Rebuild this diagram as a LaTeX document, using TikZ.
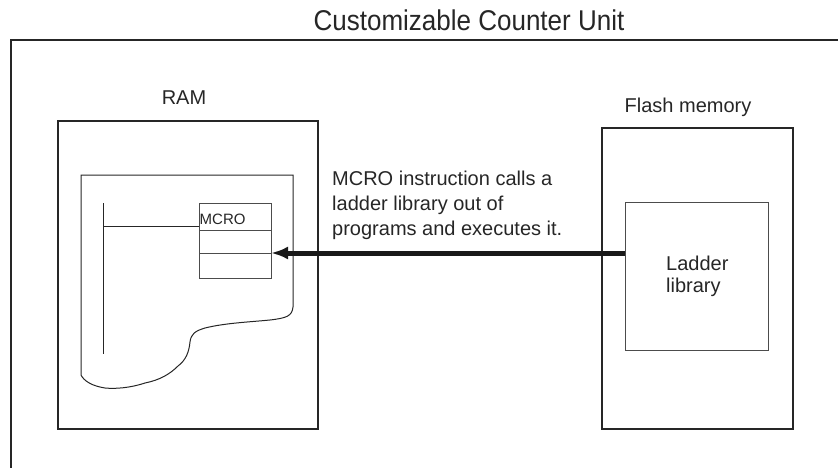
\documentclass[tikz,border=0pt]{standalone}
\usepackage{fontspec}
\setmainfont{Liberation Sans}
\usetikzlibrary{arrows.meta}
\begin{document}
\begin{tikzpicture}[x=1pt,y=-1pt,
  frame/.style={draw=black!85,line width=2pt},
  thin/.style={draw=black!70,line width=1pt},
  rect/.style={inner sep=0pt,outer sep=0pt,anchor=north west},
  lbl/.style={inner sep=0pt,font=\fontsize{20}{25}\selectfont,text=black!85},
  bigarrow/.style={line width=5pt,draw=black!90,-{Latex[length=17pt,width=13pt]}}]
\useasboundingbox (0,0) rectangle (838,468);
% title and outer frame
\node[lbl,font=\fontsize{26}{30}\selectfont] (title) at (469,20) {\scalebox{1}[1.1]{Customizable Counter Unit}};
\coordinate (fr1) at (838,40);
\coordinate (fr2) at (11,40);
\coordinate (fr3) at (11,468);
\draw[frame,line cap=rect] (fr1) -- (fr2) -- (fr3);
% RAM
\node[lbl] (ramlbl) at (184,98) {RAM};
\node[rect,frame,minimum width=260pt,minimum height=308pt] (ram) at (58,121) {};
\draw[draw=black!85,line width=1pt] (81,175) -- (293,175) -- (293,307)
  .. controls (292,316) and (287,318) .. (270,320)
  .. controls (250,322) and (225,323) .. (205,328)
  .. controls (195,331) and (191,334) .. (190,342)
  .. controls (189,352) and (186,360) .. (178,366)
  .. controls (170,374) and (160,380) .. (145,383)
  .. controls (130,388) and (115,389) .. (105,388)
  .. controls (92,386) and (84,381) .. (81,375) -- cycle;
\coordinate (busT) at (103,203);
\coordinate (busB) at (103,354);
\draw[draw=black!85,line width=1pt] (busT) -- (busB);
\node[rect,thin,minimum width=72pt,minimum height=75pt] (mcro) at (199,203) {};
\coordinate (d1) at (0,230);
\coordinate (d2) at (0,253);
\draw[thin] (mcro.west |- d1) -- (mcro.east |- d1);
\draw[thin] (mcro.west |- d2) -- (mcro.east |- d2);
\coordinate (rung) at (0,226);
\draw[draw=black!85,line width=1pt] (busT |- rung) -- (mcro.west |- rung);
\node[inner sep=0pt,anchor=base west,font=\fontsize{15}{18}\selectfont,text=black!85] (mcrotxt) at (199.5,224) {MCRO};
% Flash
\node[lbl] (flashlbl) at (688,107) {Flash memory};
\node[rect,frame,minimum width=191pt,minimum height=301pt] (flash) at (602,128) {};
\node[rect,thin,minimum width=143pt,minimum height=148pt] (lib) at (625,202) {};
\node[lbl,anchor=north west,align=left,font=\fontsize{20}{22}\selectfont] (libtxt) at (666,255.5) {Ladder\\library};
% note
\node[lbl,anchor=north west,align=left] (note) at (332,170.5) {MCRO instruction calls a\\ladder library out of\\programs and executes it.};
% arrow
\draw[bigarrow] (lib.west |- d2) -- (mcro.east |- d2);
\end{tikzpicture}
\end{document}
